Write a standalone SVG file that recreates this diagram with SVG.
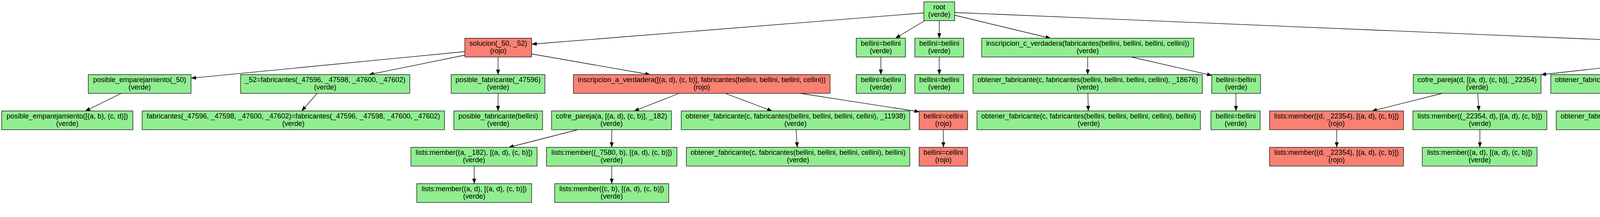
<svg xmlns="http://www.w3.org/2000/svg" width="5484" height="555" viewBox="0 0 5484 555">
<style>
.n rect{stroke:#1a1a1a;stroke-width:1.4}
.g rect{fill:#90EE90}
.r rect{fill:#FA8072}
.n text{font-family:"Liberation Sans",Arial,sans-serif;font-size:18px;text-anchor:middle;fill:#000}
.e path{fill:none;stroke:#000;stroke-width:1.3;marker-end:url(#ah)}
</style>
<defs>
<marker id="ah" viewBox="0 0 13 10" refX="13" refY="5" markerWidth="13" markerHeight="10" markerUnits="userSpaceOnUse" orient="auto">
<path d="M0,0 L13,5 L0,10 z" fill="#000"/>
</marker>
</defs>
<rect width="5484" height="555" fill="#fff"/>
<g id="edges" class="e">
<path d="M2365,33 L1361,113"/>
<path d="M2367,53 L2292,98"/>
<path d="M2404.5,53 L2404.5,98"/>
<path d="M2444,39 L2690,98"/>
<path d="M2444,32 L4240,107"/>
<path d="M1190,132 L489,200"/>
<path d="M1190,141 L944,191"/>
<path d="M1275,146 L1275,191"/>
<path d="M1361,138 L1665,191"/>
<path d="M310,239 L218,284"/>
<path d="M812,239 L772,284"/>
<path d="M1275,239 L1275,284"/>
<path d="M1738,239 L1623,284"/>
<path d="M1857,239 L1977,284"/>
<path d="M2050,239 L2354,286"/>
<path d="M1478,332 L1302,377"/>
<path d="M1566,332 L1566,377"/>
<path d="M1214,425 L1214,470"/>
<path d="M1566,425 L1566,470"/>
<path d="M2038,332 L2041,377"/>
<path d="M2255,146 L2255,191"/>
<path d="M2404.5,146 L2404.5,191"/>
<path d="M2415,332 L2415,377"/>
<path d="M2784.5,146 L2784.5,191"/>
<path d="M2897,146 L3103,193"/>
<path d="M2785,239 L2786,284"/>
<path d="M3164,239 L3164,284"/>
<path d="M4356,146 L3945,191"/>
<path d="M4492,146 L4340,191"/>
<path d="M4645,146 L4797,191"/>
<path d="M4872,146 Q5040,160 5192,193"/>
<path d="M4897,139 Q5130,155 5342,193"/>
<path d="M3691,239 L3512,284"/>
<path d="M3783,239 L3786,284"/>
<path d="M3788.5,332 L3788.5,377"/>
<path d="M3422,332 L3422,377"/>
<path d="M4265,239 L4268,284"/>
<path d="M4874,239 L4874,284"/>
<path d="M5254,239 L5254,284"/>
<path d="M5410,239 L5410,284"/>
</g>
<g id="root" class="n g"><rect x="2365" y="4.7" width="79" height="48"/><text x="2404.5" y="24.4">root</text><text x="2404.5" y="43">(verde)</text></g>
<g id="solucion" class="n r"><rect x="1190" y="97.7" width="171" height="48"/><text x="1275.5" y="117.4">solucion(_50, _52)</text><text x="1275.5" y="136">(rojo)</text></g>
<g id="pe50" class="n g"><rect x="226" y="190.7" width="263" height="48"/><text x="357.5" y="210.4">posible_emparejamiento(_50)</text><text x="357.5" y="229">(verde)</text></g>
<g id="pe_abcd" class="n g"><rect x="4.3" y="283.7" width="336" height="48"/><text x="172.3" y="303.4">posible_emparejamiento([(a, b), (c, d)])</text><text x="172.3" y="322">(verde)</text></g>
<g id="f52" class="n g"><rect x="616" y="190.7" width="433" height="48"/><text x="832.5" y="210.4">_52=fabricantes(_47596, _47598, _47600, _47602)</text><text x="832.5" y="229">(verde)</text></g>
<g id="ffeq" class="n g"><rect x="364" y="283.7" width="774" height="48"/><text x="751" y="303.4">fabricantes(_47596, _47598, _47600, _47602)=fabricantes(_47596, _47598, _47600, _47602)</text><text x="751" y="322">(verde)</text></g>
<g id="pf47596" class="n g"><rect x="1155" y="190.7" width="240" height="48"/><text x="1275" y="210.4">posible_fabricante(_47596)</text><text x="1275" y="229">(verde)</text></g>
<g id="pfbellini" class="n g"><rect x="1162" y="283.7" width="227" height="48"/><text x="1275.5" y="303.4">posible_fabricante(bellini)</text><text x="1275.5" y="322">(verde)</text></g>
<g id="iav" class="n r"><rect x="1468" y="190.7" width="657" height="48"/><text x="1796.5" y="210.4">inscripcion_a_verdadera([(a, d), (c, b)], fabricantes(bellini, bellini, bellini, cellini))</text><text x="1796.5" y="229">(rojo)</text></g>
<g id="cpa" class="n g"><rect x="1412" y="283.7" width="307" height="48"/><text x="1565.5" y="303.4">cofre_pareja(a, [(a, d), (c, b)], _182)</text><text x="1565.5" y="322">(verde)</text></g>
<g id="lm_a182" class="n g"><rect x="1052" y="376.7" width="323" height="48"/><text x="1213.5" y="396.4">lists:member((a, _182), [(a, d), (c, b)])</text><text x="1213.5" y="415">(verde)</text></g>
<g id="lm_ad1" class="n g"><rect x="1067" y="469.7" width="294" height="48"/><text x="1214" y="489.4">lists:member((a, d), [(a, d), (c, b)])</text><text x="1214" y="508">(verde)</text></g>
<g id="lm_7580" class="n g"><rect x="1399" y="376.7" width="334" height="48"/><text x="1566" y="396.4">lists:member((_7580, b), [(a, d), (c, b)])</text><text x="1566" y="415">(verde)</text></g>
<g id="lm_cb" class="n g"><rect x="1420" y="469.7" width="292" height="48"/><text x="1566" y="489.4">lists:member((c, b), [(a, d), (c, b)])</text><text x="1566" y="508">(verde)</text></g>
<g id="ofc11938" class="n g"><rect x="1744" y="283.7" width="585" height="48"/><text x="2036.5" y="303.4">obtener_fabricante(c, fabricantes(bellini, bellini, bellini, cellini), _11938)</text><text x="2036.5" y="322">(verde)</text></g>
<g id="ofcbellini1" class="n g"><rect x="1757" y="376.7" width="572" height="48"/><text x="2043" y="396.4">obtener_fabricante(c, fabricantes(bellini, bellini, bellini, cellini), bellini)</text><text x="2043" y="415">(verde)</text></g>
<g id="bb1a" class="n g"><rect x="2192" y="97.7" width="126" height="48"/><text x="2255" y="117.4">bellini=bellini</text><text x="2255" y="136">(verde)</text></g>
<g id="bb1b" class="n g"><rect x="2192" y="190.7" width="126" height="48"/><text x="2255" y="210.4">bellini=bellini</text><text x="2255" y="229">(verde)</text></g>
<g id="bb2a" class="n g"><rect x="2342" y="97.7" width="125" height="48"/><text x="2404.5" y="117.4">bellini=bellini</text><text x="2404.5" y="136">(verde)</text></g>
<g id="bb2b" class="n g"><rect x="2342" y="190.7" width="125" height="48"/><text x="2404.5" y="210.4">bellini=bellini</text><text x="2404.5" y="229">(verde)</text></g>
<g id="bc1" class="n r"><rect x="2353" y="283.7" width="124" height="48"/><text x="2415" y="303.4">bellini=cellini</text><text x="2415" y="322">(rojo)</text></g>
<g id="bc2" class="n r"><rect x="2353" y="376.7" width="124" height="48"/><text x="2415" y="396.4">bellini=cellini</text><text x="2415" y="415">(rojo)</text></g>
<g id="icv" class="n g"><rect x="2513" y="97.7" width="543" height="48"/><text x="2784.5" y="117.4">inscripcion_c_verdadera(fabricantes(bellini, bellini, bellini, cellini))</text><text x="2784.5" y="136">(verde)</text></g>
<g id="ofc18676" class="n g"><rect x="2491" y="190.7" width="587" height="48"/><text x="2784.5" y="210.4">obtener_fabricante(c, fabricantes(bellini, bellini, bellini, cellini), _18676)</text><text x="2784.5" y="229">(verde)</text></g>
<g id="ofcbellini2" class="n g"><rect x="2501" y="283.7" width="572" height="48"/><text x="2787" y="303.4">obtener_fabricante(c, fabricantes(bellini, bellini, bellini, cellini), bellini)</text><text x="2787" y="322">(verde)</text></g>
<g id="bb3a" class="n g"><rect x="3102" y="190.7" width="125" height="48"/><text x="3164.5" y="210.4">bellini=bellini</text><text x="3164.5" y="229">(verde)</text></g>
<g id="bb3b" class="n g"><rect x="3100" y="283.7" width="126" height="48"/><text x="3163.5" y="303.4">bellini=bellini</text><text x="3163.5" y="322">(verde)</text></g>
<g id="idv" class="n r"><rect x="4240" y="97.7" width="657" height="48"/><text x="4568.5" y="117.4">inscripcion_d_verdadera([(a, d), (c, b)], fabricantes(bellini, bellini, bellini, cellini))</text><text x="4568.5" y="136">(rojo)</text></g>
<g id="cpd" class="n g"><rect x="3618" y="190.7" width="327" height="48"/><text x="3781.5" y="210.4">cofre_pareja(d, [(a, d), (c, b)], _22354)</text><text x="3781.5" y="229">(verde)</text></g>
<g id="lmd1" class="n r"><rect x="3250" y="283.7" width="343" height="48"/><text x="3421.5" y="303.4">lists:member((d, _22354), [(a, d), (c, b)])</text><text x="3421.5" y="322">(rojo)</text></g>
<g id="lmd2" class="n r"><rect x="3250" y="376.7" width="343" height="48"/><text x="3421.5" y="396.4">lists:member((d, _22354), [(a, d), (c, b)])</text><text x="3421.5" y="415">(rojo)</text></g>
<g id="lm22354d" class="n g"><rect x="3617" y="283.7" width="343" height="48"/><text x="3788.5" y="303.4">lists:member((_22354, d), [(a, d), (c, b)])</text><text x="3788.5" y="322">(verde)</text></g>
<g id="lm_ad2" class="n g"><rect x="3641" y="376.7" width="294" height="48"/><text x="3788" y="396.4">lists:member((a, d), [(a, d), (c, b)])</text><text x="3788" y="415">(verde)</text></g>
<g id="ofa26712" class="n g"><rect x="3970" y="190.7" width="587" height="48"/><text x="4263.5" y="210.4">obtener_fabricante(a, fabricantes(bellini, bellini, bellini, cellini), _26712)</text><text x="4263.5" y="229">(verde)</text></g>
<g id="ofabellini" class="n g"><rect x="3984" y="283.7" width="574" height="48"/><text x="4271" y="303.4">obtener_fabricante(a, fabricantes(bellini, bellini, bellini, cellini), bellini)</text><text x="4271" y="322">(verde)</text></g>
<g id="ofd27946" class="n g"><rect x="4580" y="190.7" width="587" height="48"/><text x="4873.5" y="210.4">obtener_fabricante(d, fabricantes(bellini, bellini, bellini, cellini), _27946)</text><text x="4873.5" y="229">(verde)</text></g>
<g id="ofdcellini" class="n g"><rect x="4588" y="283.7" width="572" height="48"/><text x="4874" y="303.4">obtener_fabricante(d, fabricantes(bellini, bellini, bellini, cellini), cellini)</text><text x="4874" y="322">(verde)</text></g>
<g id="bb4a" class="n g"><rect x="5191" y="190.7" width="126" height="48"/><text x="5254" y="210.4">bellini=bellini</text><text x="5254" y="229">(verde)</text></g>
<g id="bb4b" class="n g"><rect x="5191" y="283.7" width="126" height="48"/><text x="5254" y="303.4">bellini=bellini</text><text x="5254" y="322">(verde)</text></g>
<g id="eh1" class="n r"><rect x="5341" y="190.7" width="138" height="48"/><text x="5410" y="210.4">es_hijo(bellini)</text><text x="5410" y="229">(rojo)</text></g>
<g id="eh2" class="n r"><rect x="5341" y="283.7" width="138" height="48"/><text x="5410" y="303.4">es_hijo(bellini)</text><text x="5410" y="322">(rojo)</text></g>
</svg>
